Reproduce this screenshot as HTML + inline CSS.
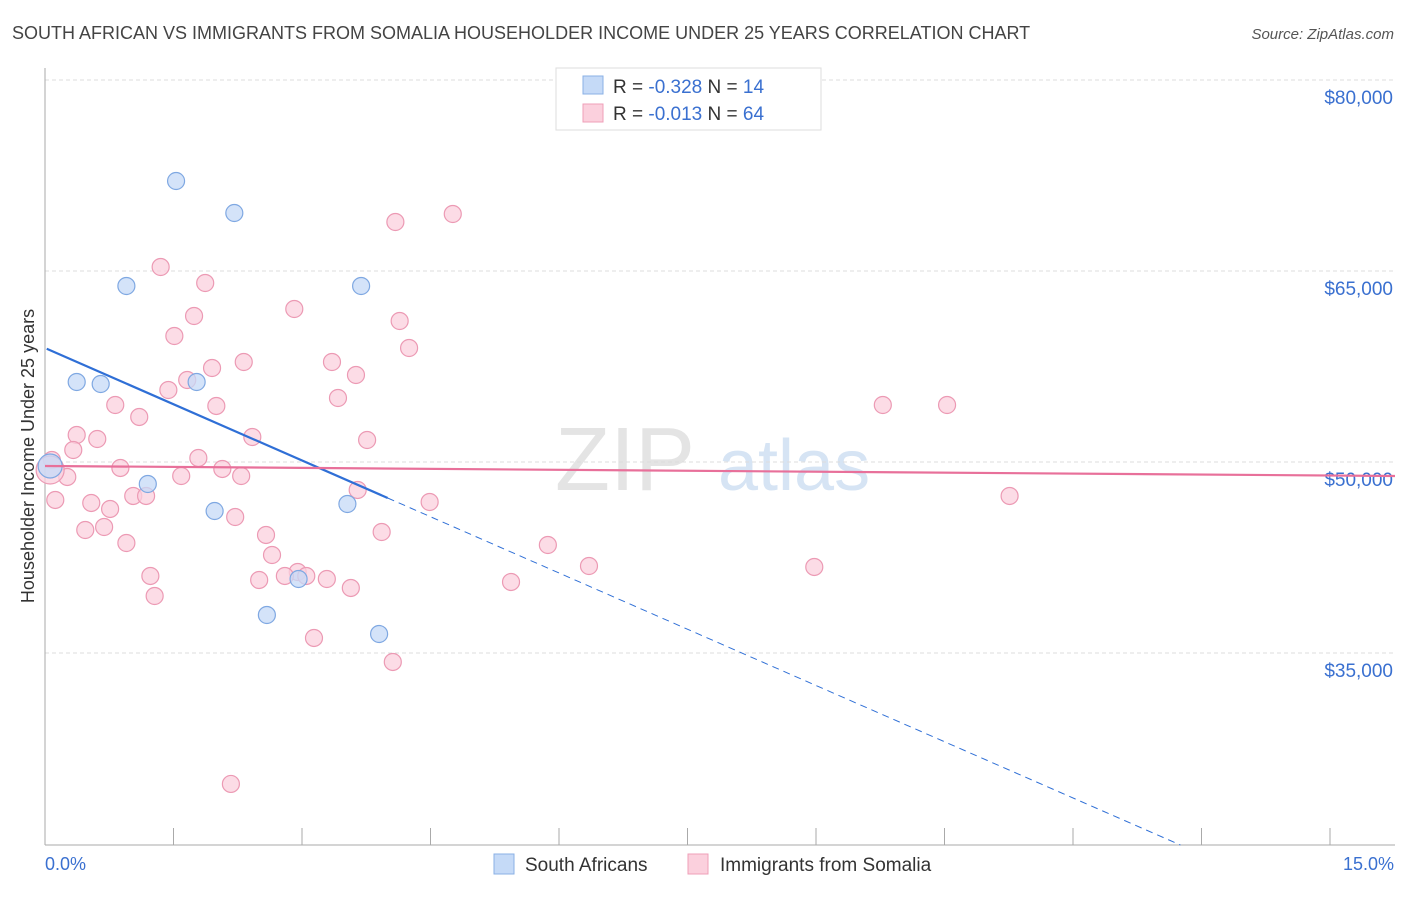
<!DOCTYPE html>
<html><head><meta charset="utf-8"><style>
body{margin:0;background:#fff;font-family:"Liberation Sans",sans-serif}
svg text{font-family:"Liberation Sans",sans-serif}
</style></head><body>
<svg width="1406" height="892" viewBox="0 0 1406 892" xmlns="http://www.w3.org/2000/svg">
<text x="12" y="39" font-size="18" fill="#444">SOUTH AFRICAN VS IMMIGRANTS FROM SOMALIA HOUSEHOLDER INCOME UNDER 25 YEARS CORRELATION CHART</text>
<text x="1394" y="39" font-size="15" fill="#555" font-style="italic" text-anchor="end">Source: ZipAtlas.com</text>
<text x="555" y="490" font-size="90" fill="#e4e4e4" font-family="Liberation Serif">ZIP</text>
<text x="718" y="490" font-size="72" fill="#d6e4f4">atlas</text>
<g id="grid"></g>
<line x1="45" y1="68" x2="45" y2="845" stroke="#aaa"/>
<line x1="45" y1="845" x2="1395" y2="845" stroke="#aaa"/>
<g id="xticks"></g>
<text transform="translate(34,456) rotate(-90)" font-size="18" fill="#333" text-anchor="middle">Householder Income Under 25 years</text>
<text x="45" y="870" font-size="18" fill="#3a70d0">0.0%</text>
<text x="1394" y="870" font-size="18" fill="#3a70d0" text-anchor="end">15.0%</text>
<g id="points"></g>
<g id="trends"></g>
<g>
<rect x="556" y="68" width="265" height="62" fill="#fff" stroke="#ddd"/>
<rect x="583" y="76" width="20" height="18" fill="#c5daf7" stroke="#8ab0e6"/>
<rect x="583" y="104" width="20" height="18" fill="#fbd0dd" stroke="#ef9fb8"/>
<text x="613" y="93" font-size="19" fill="#333">R = <tspan fill="#3a70d0">-0.328</tspan>   N = <tspan fill="#3a70d0">14</tspan></text>
<text x="613" y="120" font-size="19" fill="#333">R = <tspan fill="#3a70d0">-0.013</tspan>   N = <tspan fill="#3a70d0">64</tspan></text>
</g>
<g>
<rect x="494" y="854" width="20" height="20" fill="#c5daf7" stroke="#8ab0e6"/>
<text x="525" y="871" font-size="19" fill="#333">South Africans</text>
<rect x="688" y="854" width="20" height="20" fill="#fbd0dd" stroke="#ef9fb8"/>
<text x="720" y="871" font-size="19" fill="#333">Immigrants from Somalia</text>
</g>
</svg>
<script>
const yTicks=[80000,65000,50000,35000];
const yTickLabels=["$80,000","$65,000","$50,000","$35,000"];
const xTickVals=[0,1.5,3,4.5,6,7.5,9,10.5,12,13.5,15];
const blueX=[1.53,2.21,0.95,3.69,0.37,0.65,1.77,1.20,1.98,3.53,2.96,2.59,3.90,0.06];
const blueY=[72068,69555,63823,63823,56283,56126,56283,48273,46152,46702,40812,37985,36493,49688];
const pinkX=[1.35,1.87,2.91,1.74,4.14,1.51,4.25,2.32,3.35,1.95,3.63,1.66,1.44,3.42,0.82,2.00,1.10,2.42,3.76,0.61,0.37,0.33,1.79,0.88,2.07,0.26,1.59,2.29,1.03,1.18,0.12,0.54,0.76,3.65,4.49,2.22,0.69,0.47,3.93,2.58,0.95,5.87,2.65,6.35,2.95,3.05,1.23,2.50,3.29,2.80,5.44,3.57,8.98,1.28,3.14,4.06,2.17,4.09,4.76,9.78,10.53,11.26,0.08,0.06];
const pinkY=[65315,64058,62016,61467,61074,59896,58954,57855,57855,57384,56834,56441,55656,55028,54478,54400,53536,51965,51729,51808,52122,50944,50316,49531,49453,48824,48902,48902,47332,47332,47018,46782,46311,47803,46860,45682,44897,44661,44504,44269,43640,43483,42698,41834,41363,41049,41049,40735,40813,41049,40578,40107,41756,39478,36180,34296,24715,68849,69477,54478,54478,47332,50159,49374];
const blueTrend=[58954,-2945]; // intercept, slope per %
const pinkTrend=[49688,-50];
const NS="http://www.w3.org/2000/svg";
const X=v=>45+v*1285/15;
const Y=v=>80+(80000-v)*191/15000;
function mk(tag,attrs,parent){const e=document.createElementNS(NS,tag);for(const k in attrs)e.setAttribute(k,attrs[k]);document.getElementById(parent).appendChild(e);return e;}
yTicks.forEach((t,i)=>{
 const l=mk('line',{x1:45,x2:1393,y1:Y(t),y2:Y(t),stroke:'#ddd','stroke-dasharray':'4,3'},'grid');
 
 
 const tx=mk('text',{x:1393,y:Y(t)+24,'font-size':19,fill:'#3a70d0','text-anchor':'end'},'grid');
 tx.textContent=yTickLabels[i];
 
 
});
xTickVals.forEach(v=>{
 const l=mk('line',{x1:X(v),x2:X(v),y1:828,y2:845,stroke:'#aaa'},'xticks');
 
 
});
pinkX.forEach((x,i)=>{
 const big=i===pinkX.length-1;
 const c=mk('circle',{cx:X(x),cy:Y(pinkY[i]),r:big?14:8.5,fill:'#fbd0dd','fill-opacity':0.75,stroke:'#ec9ab4','stroke-width':1.2},'points');
 
 
});
blueX.forEach((x,i)=>{
 const big=i===blueX.length-1;
 const c=mk('circle',{cx:X(x),cy:Y(blueY[i]),r:big?12:8.5,fill:'#c5daf7','fill-opacity':0.75,stroke:'#7fa8e2','stroke-width':1.2},'points');
 
 
});
const bv=x=>blueTrend[0]+blueTrend[1]*x;
const b1=mk('line',{x1:X(0.02),y1:Y(bv(0.02)),x2:X(4.0),y2:Y(bv(4.0)),stroke:'#2f6fd6','stroke-width':2.2},'trends');


let xe=(Y.length,((80000-(845-80)*15000/191)-blueTrend[0])/blueTrend[1]);
const b2=mk('line',{x1:X(4.0),y1:Y(bv(4.0)),x2:X(xe),y2:Y(bv(xe)),stroke:'#2f6fd6','stroke-width':1,'stroke-dasharray':'7,5'},'trends');


const pv=x=>pinkTrend[0]+pinkTrend[1]*x;
const p1=mk('line',{x1:X(0),y1:Y(pv(0)),x2:1395,y2:Y(pv(15.76)),stroke:'#e8709a','stroke-width':2.2},'trends');


</script>
</body></html>
